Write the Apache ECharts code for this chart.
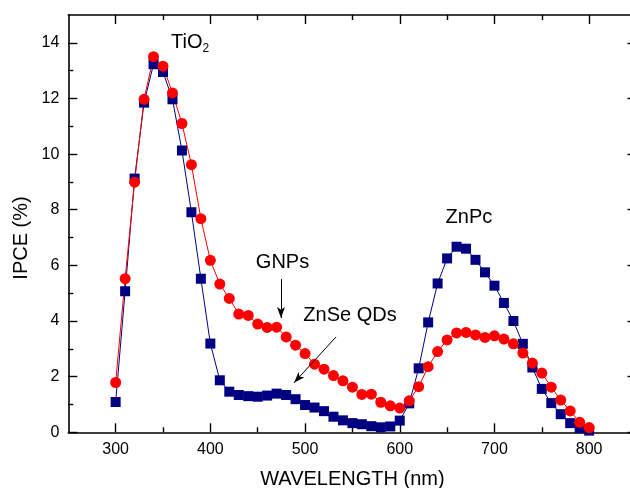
<!DOCTYPE html>
<html>
<head>
<meta charset="utf-8">
<script src="https://cdn.jsdelivr.net/npm/echarts@6/dist/echarts.min.js"></script>
<style>html,body{margin:0;padding:0;background:#fff}#c{width:630px;height:488px}</style>
</head>
<body>
<div id="c"></div>
<script>
const wavelengths = [300,310,320,330,340,350,360,370,380,390,400,410,420,430,440,450,460,470,480,490,500,510,520,530,540,550,560,570,580,590,600,610,620,630,640,650,660,670,680,690,700,710,720,730,740,750,760,770,780,790,800];
const znseQDs = [1.09,5.07,9.12,11.85,13.23,12.95,11.97,10.13,7.91,5.52,3.19,1.87,1.46,1.34,1.30,1.28,1.32,1.39,1.34,1.19,0.98,0.89,0.76,0.56,0.43,0.33,0.29,0.22,0.18,0.21,0.42,1.04,2.30,3.95,5.35,6.25,6.67,6.60,6.20,5.75,5.27,4.65,4.00,3.18,2.33,1.56,1.05,0.65,0.33,0.15,0.06];
const gnps = [1.79,5.52,8.99,11.97,13.50,13.16,12.20,11.10,9.62,7.68,6.18,5.33,4.81,4.25,4.20,3.89,3.77,3.78,3.43,3.13,2.83,2.45,2.27,2.04,1.85,1.62,1.36,1.37,1.08,0.95,0.87,1.13,1.64,2.36,2.90,3.32,3.57,3.59,3.50,3.41,3.47,3.35,3.18,2.85,2.49,2.13,1.62,1.16,0.77,0.36,0.17];
const xMajorTicks = [300,400,500,600,700,800];
const xMinorTicks = [350,450,550,650,750];
const yMajorTicks = [0,2,4,6,8,10,12,14];
const yMinorTicks = [1,3,5,7,9,11,13];

const FONT = 'Liberation Sans, Arial, sans-serif';
const chart = echarts.init(document.getElementById('c'));

function xAx(pos, ticks, len, labels, line) {
  return {
    type: 'value', min: 250, max: 850, position: pos, gridIndex: 0,
    axisLine: {show: line, onZero: false, lineStyle: {color: '#000', width: 1.6}},
    axisTick: {show: true, inside: true, length: len, customValues: ticks, lineStyle: {color: '#000', width: 1.4}},
    axisLabel: {show: labels, customValues: ticks, color: '#000', fontSize: 16, fontFamily: FONT, margin: 9},
    splitLine: {show: false}
  };
}
function yAx(pos, ticks, len, labels, line) {
  return {
    type: 'value', min: 0, max: 15, position: pos, gridIndex: 0,
    axisLine: {show: line, onZero: false, lineStyle: {color: '#000', width: 1.6}},
    axisTick: {show: true, inside: true, length: len, customValues: ticks, lineStyle: {color: '#000', width: 1.4}},
    axisLabel: {show: labels, customValues: ticks, color: '#000', fontSize: 16, fontFamily: FONT, margin: 9},
    splitLine: {show: false}
  };
}

const blueData = wavelengths.map((w, i) => [w, znseQDs[i]]);
const redData = wavelengths.map((w, i) => [w, gnps[i]]);

const xBottom = xAx('bottom', xMajorTicks, 9, true, true);
xBottom.name = 'WAVELENGTH (nm)';
xBottom.nameLocation = 'middle';
xBottom.nameGap = 37;
xBottom.nameTextStyle = {color: '#000', fontSize: 20, fontFamily: FONT};

chart.setOption({
  animation: false,
  backgroundColor: '#fff',
  grid: {left: 68.3, top: 15, right: -6.5, bottom: 55.7, containLabel: false, outerBoundsMode: 'none'},
  xAxis: [
    xBottom,
    xAx('bottom', xMinorTicks, 5, false, false),
    xAx('top', xMajorTicks, 9, false, true),
    xAx('top', xMinorTicks, 5, false, false)
  ],
  yAxis: [
    yAx('left', yMajorTicks, 9, true, true),
    yAx('left', yMinorTicks, 5, false, false),
    yAx('right', yMajorTicks, 9, false, true),
    yAx('right', yMinorTicks, 5, false, false)
  ],
  series: [
    {
      name: 'ZnSe QDs', type: 'line', xAxisIndex: 0, yAxisIndex: 0,
      data: blueData, symbol: 'rect', symbolSize: 10,
      lineStyle: {color: '#000080', width: 1},
      itemStyle: {color: '#000080'},
      markLine: {
        silent: true, symbol: ['none', 'arrow'], symbolSize: [6, 11],
        label: {show: false},
        lineStyle: {color: '#000', width: 1, type: 'solid'},
        data: [
          [{coord: [474.6, 5.51]}, {coord: [474.6, 4.11]}],
          [{coord: [532.7, 3.43]}, {coord: [488.4, 1.78]}]
        ]
      }
    },
    {
      name: 'GNPs', type: 'line', xAxisIndex: 0, yAxisIndex: 0,
      data: redData, symbol: 'circle', symbolSize: 11,
      lineStyle: {color: '#ff0000', width: 1},
      itemStyle: {color: '#ff0000'}
    }
  ]
});

function px(p) { return chart.convertToPixel({xAxisIndex: 0, yAxisIndex: 0}, p); }
const tio = px([358.5, 14.02]);
const gn = px([476.2, 6.1]);
const zq = px([547.5, 4.19]);
const zp = px([673, 7.71]);
const txt = (pos, s, align) => ({
  type: 'text', x: pos[0], y: pos[1],
  style: {text: s, fill: '#000', font: '20px ' + FONT, textAlign: align || 'center', textVerticalAlign: 'middle'}
});
chart.setOption({
  graphic: [
    {
      type: 'text', x: tio[0], y: tio[1],
      style: {
        text: '{a|TiO}{b|2}', textAlign: 'left', textVerticalAlign: 'middle',
        rich: {
          a: {fontSize: 20, fontFamily: FONT, fill: '#000'},
          b: {fontSize: 12, fontFamily: FONT, fill: '#000', padding: [12, 0, 0, 0]}
        }
      }
    },
    txt(gn, 'GNPs'),
    txt(zq, 'ZnSe QDs'),
    txt(zp, 'ZnPc'),
    {
      type: 'text', x: 21, y: 238, rotation: Math.PI / 2,
      style: {text: 'IPCE (%)', fill: '#000', font: '20px ' + FONT, textAlign: 'center', textVerticalAlign: 'middle'}
    }
  ]
});
</script>
</body>
</html>
